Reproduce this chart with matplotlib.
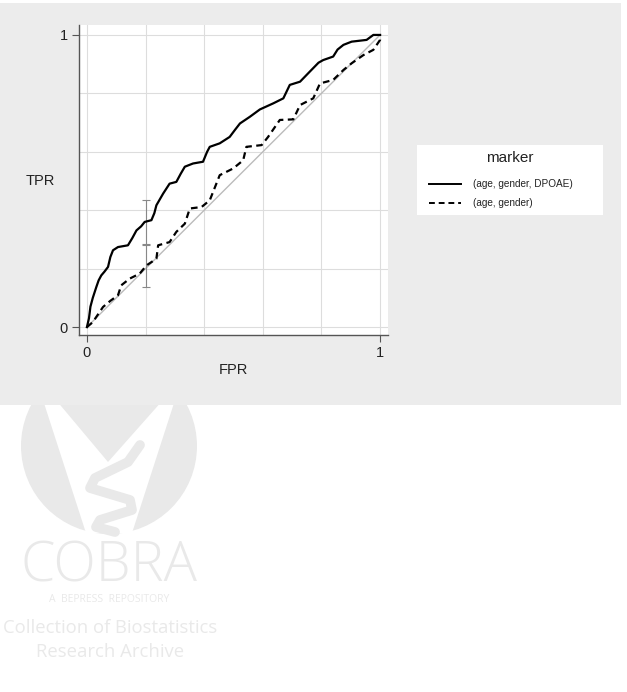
import matplotlib
matplotlib.use("Agg")
import matplotlib.pyplot as plt
from matplotlib.lines import Line2D
from matplotlib.patches import Rectangle, Circle, Polygon

plt.rcParams['font.family'] = ['Liberation Sans', 'DejaVu Sans']

# ROC curve for (age, gender, DPOAE)
fpr_full = [0.0, 0.007, 0.012, 0.02, 0.032, 0.04, 0.049, 0.06, 0.072, 0.08, 0.089, 0.106,
            0.14, 0.155, 0.169, 0.185, 0.197, 0.22, 0.23, 0.237, 0.26, 0.282, 0.305,
            0.32, 0.334, 0.362, 0.396, 0.41, 0.419, 0.453, 0.487, 0.505, 0.522, 0.556,
            0.59, 0.636, 0.67, 0.692, 0.727, 0.755, 0.79, 0.806, 0.84, 0.855, 0.875,
            0.903, 0.954, 0.977, 1.0]
tpr_full = [0.0, 0.03, 0.07, 0.1, 0.137, 0.16, 0.177, 0.19, 0.206, 0.24, 0.263, 0.274,
            0.28, 0.305, 0.331, 0.345, 0.36, 0.366, 0.39, 0.417, 0.457, 0.491, 0.497,
            0.525, 0.549, 0.56, 0.566, 0.6, 0.617, 0.629, 0.651, 0.675, 0.697, 0.72,
            0.745, 0.766, 0.783, 0.829, 0.84, 0.869, 0.905, 0.914, 0.926, 0.95, 0.966,
            0.977, 0.983, 1.0, 1.0]

# ROC curve for (age, gender)
fpr_base = [0.0, 0.02, 0.055, 0.08, 0.106, 0.117, 0.146, 0.18, 0.203, 0.237, 0.243,
            0.282, 0.305, 0.334, 0.351, 0.391, 0.419, 0.453, 0.499, 0.533, 0.544, 0.596,
            0.618, 0.658, 0.704, 0.727, 0.772, 0.795, 0.84, 0.875, 0.903, 0.943, 0.977,
            1.0, 1.0]
tpr_base = [0.0, 0.017, 0.069, 0.09, 0.109, 0.143, 0.166, 0.183, 0.211, 0.234, 0.28,
            0.291, 0.326, 0.354, 0.406, 0.411, 0.434, 0.52, 0.543, 0.571, 0.617, 0.623,
            0.651, 0.709, 0.711, 0.76, 0.783, 0.834, 0.846, 0.88, 0.903, 0.931, 0.949,
            0.983, 1.0]

# pointwise confidence intervals at FPR = 0.2
ci_x = 0.2
ci_full = (0.36, 0.28, 0.435)
ci_base = (0.212, 0.137, 0.284)

labels = ["(age, gender, DPOAE)", "(age, gender)"]

W, H = 627, 692
fig = plt.figure(figsize=(W / 100, H / 100), dpi=100)

# watermark (drawn first, the gray panel sits over its top)
wm = '#e9e9e9'
wax = fig.add_axes([0, 0, 1, 1], zorder=0)
wax.set_xlim(0, W)
wax.set_ylim(H, 0)
wax.axis('off')
wax.add_patch(Circle((109, 446), 88, color=wm, lw=0))
wax.add_patch(Polygon([(43, 400), (175, 400), (132, 533), (86, 533)], color='white', lw=0))
wax.add_patch(Polygon([(56, 400), (163, 400), (108, 462)], color=wm, lw=0))
# rough helix
wax.plot([140, 128, 95, 90, 130, 132, 100, 96, 115],
         [445, 462, 478, 488, 500, 510, 520, 527, 532], color=wm, lw=7,
         solid_capstyle='round', solid_joinstyle='round')
wax.text(109, 567, "COBRA", ha='center', va='center', fontsize=40, color=wm,
         family='Open Sans', fontweight='light')
wax.text(109, 600, "A  BEPRESS  REPOSITORY", ha='center', va='center', fontsize=7.5,
         color=wm, family='Open Sans')
wax.text(110, 628, "Collection of Biostatistics", ha='center', va='center', fontsize=13.3,
         color=wm, family='Open Sans')
wax.text(110, 652, "Research Archive", ha='center', va='center', fontsize=13.3,
         color=wm, family='Open Sans')

# gray graph region
fig.patches.append(Rectangle((0, 1 - 405 / H), 621 / W, 402 / H, transform=fig.transFigure,
                             facecolor='#ececec', edgecolor='none', zorder=1))

ax = fig.add_axes([79 / W, 1 - 335 / H, 309 / W, 310 / H], zorder=2)
ax.set_facecolor('white')
ax.set_xlim(-0.027, 1.027)
ax.set_ylim(-0.027, 1.034)

for g in [0, 0.2, 0.4, 0.6, 0.8, 1.0]:
    ax.axvline(g, color='#dddddd', lw=0.8, zorder=1)
    ax.axhline(g, color='#dddddd', lw=0.8, zorder=1)

ax.plot([0, 1], [0, 1], color='#bbbbbb', lw=1.0, zorder=2)
ax.errorbar([ci_x], [ci_full[0]], yerr=[[ci_full[0] - ci_full[1]], [ci_full[2] - ci_full[0]]],
            fmt='none', ecolor='#888888', elinewidth=0.8, capsize=3, capthick=0.8, zorder=3)
ax.errorbar([ci_x], [ci_base[0]], yerr=[[ci_base[0] - ci_base[1]], [ci_base[2] - ci_base[0]]],
            fmt='none', ecolor='#888888', elinewidth=0.8, capsize=3, capthick=0.8, zorder=3)
ax.plot(fpr_full, tpr_full, color='black', lw=1.6, zorder=4)
ax.plot(fpr_base, tpr_base, color='black', lw=1.6, ls=(0, (3, 2)), zorder=4)

for s in ['top', 'right']:
    ax.spines[s].set_visible(False)
for s in ['left', 'bottom']:
    ax.spines[s].set_color('#555555')
    ax.spines[s].set_linewidth(1.0)
ax.set_xticks([0, 1])
ax.set_yticks([0, 1])
ax.set_xticklabels(['0', '1'])
ax.set_yticklabels(['0', '1'])
ax.tick_params(direction='out', length=5, width=0.8, color='#555555', labelsize=10.5,
               labelcolor='#222222', pad=3)

fig.text(40 / W, 1 - 181 / H, "TPR", ha='center', va='center', fontsize=10.5, color='#222222')
fig.text(233 / W, 1 - 370 / H, "FPR", ha='center', va='center', fontsize=10.5, color='#222222')

# legend box
lax = fig.add_axes([417 / W, 1 - 215 / H, 186 / W, 70 / H], zorder=3)
lax.set_xlim(417, 603)
lax.set_ylim(215, 145)
lax.set_facecolor('white')
for s in lax.spines.values():
    s.set_visible(False)
lax.set_xticks([])
lax.set_yticks([])
lax.text(510, 158, "marker", ha='center', va='center', fontsize=11, color='#222222')
lax.add_line(Line2D([429, 461], [184, 184], color='black', lw=1.4))
lax.add_line(Line2D([429, 461], [203, 203], color='black', lw=1.4, ls=(0, (3, 2))))
lax.text(473, 184, labels[0], ha='left', va='center', fontsize=7.2, color='#222222')
lax.text(473, 203, labels[1], ha='left', va='center', fontsize=7.2, color='#222222')

fig.savefig("out.png", dpi=100)
